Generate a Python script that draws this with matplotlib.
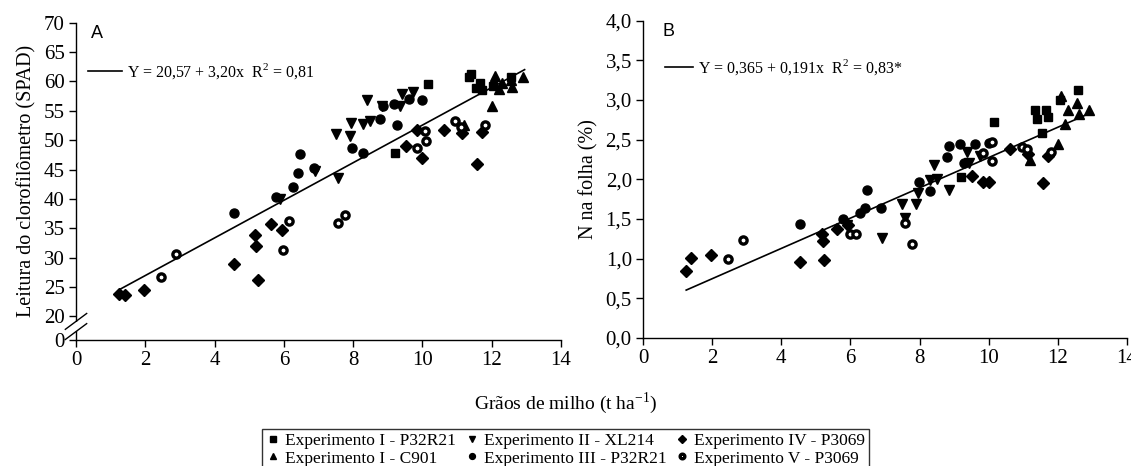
import matplotlib
matplotlib.use("Agg")
import matplotlib.pyplot as plt
from matplotlib.lines import Line2D
from matplotlib.patches import Rectangle
import numpy as np

plt.rcParams['font.family'] = ['Liberation Serif', 'DejaVu Serif']
plt.rcParams['mathtext.fontset'] = 'custom'
plt.rcParams['mathtext.rm'] = 'Liberation Serif'

# ---- data ----
sq_x = [9.2, 10.15, 11.35, 11.4, 11.55, 11.65, 11.72, 12.05, 12.57]
sq_A = [47.8, 59.5, 60.8, 61.2, 58.9, 59.7, 58.5, 59.2, 60.8]
sq_B = [2.03, 2.72, 2.87, 2.76, 2.59, 2.88, 2.78, 3.00, 3.12]

tri_x = [11.2, 12.0, 12.1, 12.2, 12.3, 12.55, 12.6, 12.9]
tri_A = [52.6, 55.8, 60.9, 58.8, 59.7, 60.2, 59.1, 60.8]
tri_B = [2.25, 2.45, 3.05, 2.70, 2.88, 2.96, 2.83, 2.88]

inv_x = [5.9, 6.9, 7.5, 7.57, 7.9, 7.95, 8.29, 8.41, 8.5, 8.84, 9.36, 9.42, 9.74]
inv_A = [40.0, 44.8, 51.1, 43.6, 50.7, 53.0, 52.8, 56.8, 53.2, 55.8, 55.9, 57.9, 58.2]
inv_B = [1.42, 1.26, 1.69, 1.51, 1.69, 1.83, 1.99, 2.18, 2.01, 1.86, 2.34, 2.20, 2.29]

circ_x = [4.55, 5.78, 6.27, 6.41, 6.47, 6.88, 7.97, 8.29, 8.79, 8.85, 9.17, 9.28, 9.6, 10.0]
circ_A = [37.6, 40.3, 42.0, 44.4, 47.6, 45.3, 48.7, 47.8, 53.6, 55.8, 56.1, 52.6, 57.0, 56.9]
circ_B = [1.44, 1.50, 1.57, 1.64, 1.87, 1.64, 1.97, 1.85, 2.28, 2.42, 2.44, 2.20, 2.45, 2.46]

dia_x = [1.25, 1.4, 1.97, 4.55, 5.18, 5.2, 5.24, 5.62, 5.94, 9.53, 9.83, 10.0, 10.62, 11.15, 11.58, 11.72]
dia_A = [23.9, 23.7, 24.5, 28.9, 33.9, 32.0, 26.2, 35.8, 34.8, 49.0, 51.8, 47.0, 51.7, 51.3, 46.0, 51.4]
dia_B = [0.84, 1.01, 1.05, 0.96, 1.31, 1.22, 0.98, 1.37, 1.43, 2.04, 1.97, 1.97, 2.38, 2.32, 1.95, 2.29]

hex_x = [2.45, 2.9, 5.98, 6.16, 7.57, 7.77, 9.83, 10.08, 10.1, 10.95, 11.1, 11.8]
hex_A = [26.8, 30.7, 31.3, 36.2, 35.9, 37.2, 48.7, 51.6, 49.9, 53.3, 52.3, 52.6]
hex_B = [1.0, 1.23, 1.31, 1.31, 1.45, 1.19, 2.33, 2.47, 2.23, 2.41, 2.38, 2.35]

series_names = ["Experimento I - P32R21", "Experimento I - C901",
                "Experimento II - XL214", "Experimento III - P32R21",
                "Experimento IV - P3069", "Experimento V - P3069"]

coefA = (20.57, 3.20)
coefB = (0.365, 0.191)
eqA = "Y = 20,57 + 3,20x  R$^2$ = 0,81"
eqB = "Y = 0,365 + 0,191x  R$^2$ = 0,83*"

xticks = [0, 2, 4, 6, 8, 10, 12, 14]
yticksA = [16, 20, 25, 30, 35, 40, 45, 50, 55, 60, 65, 70]
yticklabelsA = ["0", "20", "25", "30", "35", "40", "45", "50", "55", "60", "65", "70"]
yticksB = [0, 0.5, 1.0, 1.5, 2.0, 2.5, 3.0, 3.5, 4.0]
yticklabelsB = ["0,0", "0,5", "1,0", "1,5", "2,0", "2,5", "3,0", "3,5", "4,0"]

styles = [
    dict(marker='s', ms=6, mfc='black', mec='black'),
    dict(marker='^', ms=7, mfc='black', mec='black'),
    dict(marker='v', ms=7, mfc='black', mec='black'),
    dict(marker='o', ms=6.5, mfc='black', mec='black'),
    dict(marker='D', ms=6.3, mfc='black', mec='black'),
    dict(marker='o', ms=5.2, mfc='white', mec='black', mew=2.4),
]

fig = plt.figure(figsize=(11.31, 4.66), dpi=100)
axA = fig.add_axes([0.0672, 0.2704, 0.4288, 0.6809])
axB = fig.add_axes([0.5685, 0.2747, 0.4280, 0.6809])

all_x = [sq_x, tri_x, inv_x, circ_x, dia_x, hex_x]
A_y = [sq_A, tri_A, inv_A, circ_A, dia_A, hex_A]
B_y = [sq_B, tri_B, inv_B, circ_B, dia_B, hex_B]

xmin = min(min(v) for v in all_x)
xmax = max(max(v) for v in all_x)
xl = np.linspace(xmin, xmax + 0.05, 50)

legpos = {id(axA): (0.005, 0.91, 2.1), id(axB): (0.025, 0.915, 1.75)}

for ax, ys, coef, eq in [(axA, A_y, coefA, eqA), (axB, B_y, coefB, eqB)]:
    for xs, yv, st in zip(all_x, ys, styles):
        ax.plot(xs, yv, linestyle='none', zorder=3, **st)
    line, = ax.plot(xl, coef[0] + coef[1] * xl, color='black', lw=1.2, zorder=2)
    ax.set_xlim(0, 14)
    ax.set_xticks(xticks)
    ax.set_xticklabels([str(t) for t in xticks])
    for s in ['top', 'right']:
        ax.spines[s].set_visible(False)
    for s in ['left', 'bottom']:
        ax.spines[s].set_linewidth(1.0)
    ax.tick_params(direction='out', length=5, width=1, labelsize=15, pad=3)
    lx, ly, hl = legpos[id(ax)]
    ax.legend([line], [eq], loc='upper left', bbox_to_anchor=(lx, ly),
              frameon=False, fontsize=11.5, handlelength=hl,
              handletextpad=0.35, borderaxespad=0.2)

axA.set_ylim(16, 70)
axA.set_yticks(yticksA)
axA.set_yticklabels(yticklabelsA)
axB.set_ylim(0, 4.0)
axB.set_yticks(yticksB)
axB.set_yticklabels(yticklabelsB)

axA.set_ylabel("Leitura do clorofilômetro (SPAD)", fontsize=14.5, labelpad=5)
axB.set_ylabel("N na folha (%)", fontsize=14.5, labelpad=5)

axA.text(0.03, 0.965, "A", transform=axA.transAxes, fontsize=13,
         family='Liberation Sans', va='center', ha='left')
axB.text(0.04, 0.965, "B", transform=axB.transAxes, fontsize=13,
         family='Liberation Sans', va='center', ha='left')

# axis break on panel A
trans = axA.transAxes
yb = (18.3 - 16) / (70 - 16)
axA.add_patch(Rectangle((-0.004, yb - 0.014), 0.008, 0.028, transform=trans,
                        facecolor='white', edgecolor='none', clip_on=False, zorder=5))
for dy in (-0.016, 0.016):
    axA.plot([-0.022, 0.022], [yb + dy - 0.025, yb + dy + 0.025], color='black',
             lw=1.0, transform=trans, clip_on=False, zorder=6)

fig.text(0.5, 0.135, "Grãos de milho (t ha$^{\\mathregular{-1}}$)", ha='center',
         va='center', fontsize=14)

handles = [Line2D([], [], linestyle='none', **st) for st in styles]
leg = fig.legend(handles, series_names,
                 loc='upper center', bbox_to_anchor=(0.5, 1 - 429 / 466), ncol=3,
                 fontsize=12.5, frameon=True, fancybox=False, edgecolor='black',
                 handlelength=0.8, handletextpad=0.3, columnspacing=0.5,
                 markerscale=0.65, borderpad=0.2, labelspacing=0.1,
                 borderaxespad=0)
leg.get_frame().set_linewidth(1.0)

fig.savefig("out.png", dpi=100)
